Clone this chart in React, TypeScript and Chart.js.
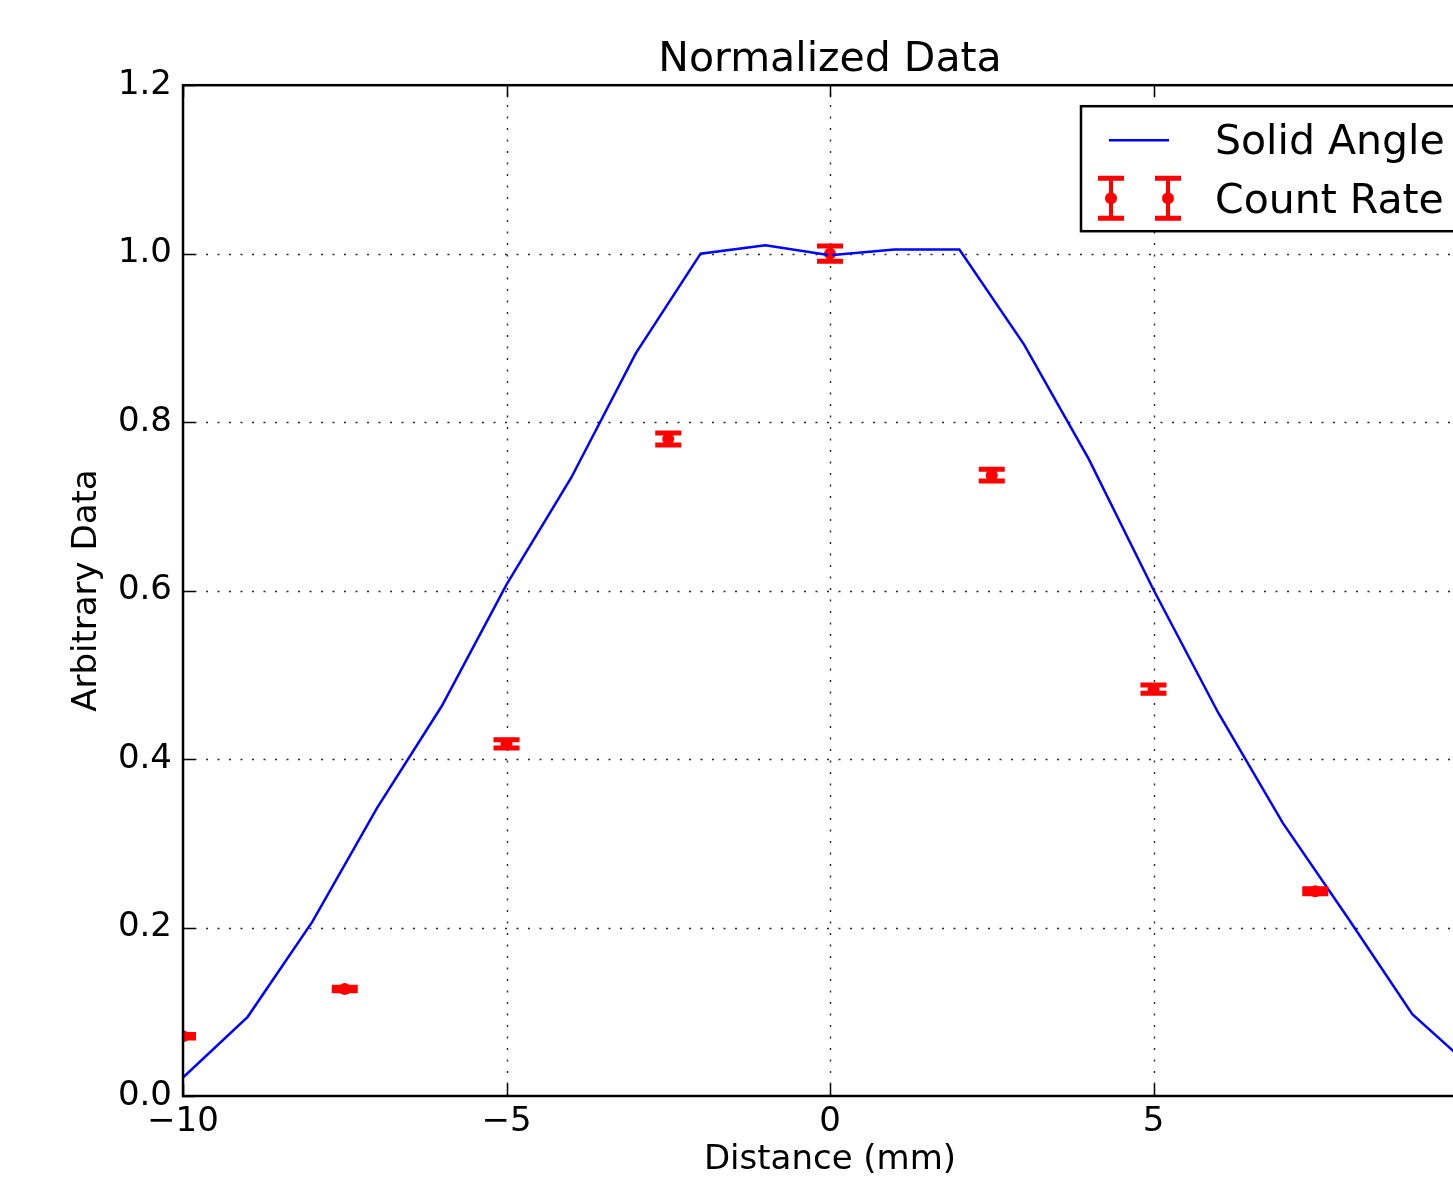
import React, { useEffect, useRef } from 'react';
import { Chart, registerables } from 'chart.js';

Chart.register(...registerables);

// ---- data ----
const solidX = [-10, -9, -8, -7, -6, -5, -4, -3, -2, -1, 0, 1, 2, 3, 4, 5, 6, 7, 8, 9, 10];
const solidY = [0.022, 0.094, 0.207, 0.342, 0.463, 0.607, 0.734, 0.882, 1.0, 1.01, 0.998, 1.005, 1.005, 0.892, 0.756, 0.601, 0.455, 0.324, 0.212, 0.097, 0.028];

const countX = [-10, -7.5, -5, -2.5, 0, 2.5, 5, 7.5];
const countY = [0.071, 0.127, 0.418, 0.78, 1.0, 0.737, 0.483, 0.243];
const countErr = [0.002, 0.002, 0.005, 0.007, 0.009, 0.007, 0.005, 0.003];

const xTicks = [-10, -5, 0, 5, 10];
const yTicks = [0, 0.2, 0.4, 0.6, 0.8, 1.0, 1.2];

const titleText = 'Normalized Data';
const xLabel = 'Distance (mm)';
const yLabel = 'Arbitrary Data';
const legendLabels = ['Solid Angle', 'Count Rate'];

const FONT = 'DejaVu Sans';
const BLUE = '#0000ff';
const RED = '#ff0000';

function drawErrHandle(ctx: CanvasRenderingContext2D, x: number, y: number, half: number, capW: number) {
  ctx.strokeStyle = RED;
  ctx.lineCap = 'butt';
  ctx.lineWidth = 4;
  ctx.beginPath();
  ctx.moveTo(x, y - half);
  ctx.lineTo(x, y + half);
  ctx.stroke();
  ctx.lineWidth = 5;
  ctx.beginPath();
  ctx.moveTo(x - capW / 2, y - half);
  ctx.lineTo(x + capW / 2, y - half);
  ctx.moveTo(x - capW / 2, y + half);
  ctx.lineTo(x + capW / 2, y + half);
  ctx.stroke();
}

const mplPlugin = {
  id: 'mplStyle',
  beforeDatasetsDraw(chart: any) {
    const { ctx, chartArea: a, scales } = chart;
    const xs = scales.x;
    const ys = scales.y;
    ctx.save();
    ctx.strokeStyle = 'rgba(0,0,0,0.85)';
    ctx.lineWidth = 1.4;
    ctx.setLineDash([2, 9.5]);
    xTicks.forEach((v) => {
      const px = Math.round(xs.getPixelForValue(v)) + 0.5;
      if (px <= a.left + 1 || px >= a.right - 1) return;
      ctx.beginPath();
      ctx.moveTo(px, a.bottom);
      ctx.lineTo(px, a.top);
      ctx.stroke();
    });
    yTicks.forEach((v) => {
      const py = Math.round(ys.getPixelForValue(v)) + 0.5;
      if (py <= a.top + 1 || py >= a.bottom - 1) return;
      ctx.beginPath();
      ctx.moveTo(a.left, py);
      ctx.lineTo(a.right, py);
      ctx.stroke();
    });
    ctx.restore();
  },
  afterDatasetsDraw(chart: any) {
    const { ctx, chartArea: a, scales } = chart;
    const xs = scales.x;
    const ys = scales.y;

    // error bars
    ctx.save();
    ctx.beginPath();
    ctx.rect(a.left, a.top, a.right - a.left, a.bottom - a.top);
    ctx.clip();
    countX.forEach((xv, i) => {
      const px = xs.getPixelForValue(xv);
      const top = ys.getPixelForValue(countY[i] + countErr[i]);
      const bot = ys.getPixelForValue(countY[i] - countErr[i]);
      const cy = (top + bot) / 2;
      drawErrHandle(ctx, px, cy, (bot - top) / 2, 26);
    });
    ctx.restore();

    // frame
    ctx.save();
    ctx.strokeStyle = '#000';
    ctx.lineWidth = 2.5;
    ctx.strokeRect(a.left, a.top, a.right - a.left, a.bottom - a.top);
    ctx.lineWidth = 1.5;
    const tl = 12;
    xTicks.forEach((v) => {
      const px = Math.round(xs.getPixelForValue(v)) + 0.5;
      ctx.beginPath();
      ctx.moveTo(px, a.bottom);
      ctx.lineTo(px, a.bottom - tl);
      ctx.moveTo(px, a.top);
      ctx.lineTo(px, a.top + tl);
      ctx.stroke();
    });
    yTicks.forEach((v) => {
      const py = Math.round(ys.getPixelForValue(v)) + 0.5;
      ctx.beginPath();
      ctx.moveTo(a.left, py);
      ctx.lineTo(a.left + tl, py);
      ctx.moveTo(a.right, py);
      ctx.lineTo(a.right - tl, py);
      ctx.stroke();
    });
    ctx.restore();

    // legend
    ctx.save();
    const bx = a.right - 396;
    const by = a.top + 21;
    const bw = 386;
    const bh = 125;
    ctx.fillStyle = '#fff';
    ctx.fillRect(bx, by, bw, bh);
    ctx.strokeStyle = '#000';
    ctx.lineWidth = 2.5;
    ctx.strokeRect(bx, by, bw, bh);

    ctx.strokeStyle = BLUE;
    ctx.lineWidth = 2.5;
    ctx.beginPath();
    ctx.moveTo(bx + 28, by + 34);
    ctx.lineTo(bx + 88, by + 34);
    ctx.stroke();

    [bx + 30, bx + 87].forEach((hx) => {
      drawErrHandle(ctx, hx, by + 92, 20, 26);
      ctx.fillStyle = RED;
      ctx.beginPath();
      ctx.arc(hx, by + 92, 6, 0, Math.PI * 2);
      ctx.fill();
    });

    ctx.fillStyle = '#000';
    ctx.font = `41px "${FONT}"`;
    ctx.textAlign = 'left';
    ctx.textBaseline = 'middle';
    ctx.fillText(legendLabels[0], bx + 134, by + 37);
    ctx.fillText(legendLabels[1], bx + 134, by + 96);
    ctx.restore();
  },
};

export default function App() {
  const ref = useRef<HTMLCanvasElement>(null);

  useEffect(() => {
    if (!ref.current) return;
    const chart = new Chart(ref.current, {
      type: 'scatter',
      data: {
        datasets: [
          {
            label: legendLabels[0],
            data: solidX.map((x, i) => ({ x, y: solidY[i] })),
            showLine: true,
            borderColor: BLUE,
            backgroundColor: BLUE,
            borderWidth: 2.5,
            pointRadius: 0,
            tension: 0,
          },
          {
            label: legendLabels[1],
            data: countX.map((x, i) => ({ x, y: countY[i] })),
            showLine: false,
            borderColor: RED,
            backgroundColor: RED,
            pointRadius: 6,
            pointBorderWidth: 0,
            clip: 0,
          },
        ],
      },
      options: {
        responsive: false,
        animation: false,
        maintainAspectRatio: false,
        layout: { padding: { left: 0, right: 23, top: 0, bottom: 0 } },
        plugins: {
          legend: { display: false },
          tooltip: { enabled: false },
          title: {
            display: true,
            fullSize: false,
            text: titleText,
            color: '#000',
            font: { family: FONT, size: 41, weight: 'normal' },
            padding: { top: 36, bottom: 0 },
          },
        },
        scales: {
          x: {
            type: 'linear',
            min: -10,
            max: 10,
            grid: { display: false, drawTicks: false },
            border: { display: false },
            afterBuildTicks: (s: any) => {
              s.ticks = xTicks.map((v) => ({ value: v }));
            },
            afterFit: (s: any) => {
              s.height = 81;
              s.paddingLeft = 0;
              s.paddingRight = 0;
            },
            ticks: {
              color: '#000',
              padding: 6,
              font: { family: FONT, size: 34 },
              maxRotation: 0,
              autoSkip: false,
              callback: (v: any) => (Number(v) < 0 ? '\u2212' + Math.abs(Number(v)) : String(v)),
            },
            title: {
              display: true,
              text: xLabel,
              color: '#000',
              font: { family: FONT, size: 34, lineHeight: 1 },
              padding: { top: 0, bottom: 0 },
            },
          },
          y: {
            type: 'linear',
            min: 0,
            max: 1.2,
            grid: { display: false, drawTicks: false },
            border: { display: false },
            afterBuildTicks: (s: any) => {
              s.ticks = yTicks.map((v) => ({ value: v }));
            },
            afterFit: (s: any) => {
              s.width = 183;
              s.paddingTop = 0;
              s.paddingBottom = 0;
            },
            ticks: {
              color: '#000',
              padding: 11,
              font: { family: FONT, size: 34 },
              autoSkip: false,
              callback: (v: any) => Number(v).toFixed(1),
            },
            title: {
              display: true,
              text: yLabel,
              color: '#000',
              font: { family: FONT, size: 34, lineHeight: 1 },
              padding: { top: 70, bottom: 0 },
            },
          },
        },
      } as any,
      plugins: [mplPlugin],
    });
    return () => chart.destroy();
  }, []);

  return (
    <div
      style={{
        position: 'fixed',
        left: 0,
        top: 0,
        width: 1453,
        height: 1177,
        overflow: 'hidden',
        background: '#fff',
      }}
    >
      <canvas ref={ref} width={1500} height={1177} style={{ display: 'block', width: 1500, height: 1177 }} />
    </div>
  );
}
